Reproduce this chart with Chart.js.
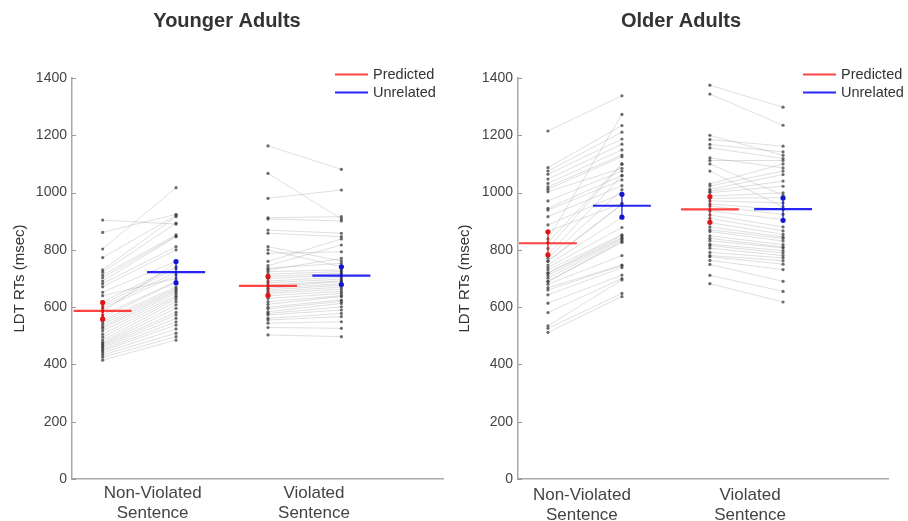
<!DOCTYPE html>
<html>
<head>
<meta charset="utf-8">
<script src="https://cdn.jsdelivr.net/npm/chart.js@4.4.1/dist/chart.umd.min.js"></script>
<style>
  html, body { margin: 0; padding: 0; background: #fff; }
  #wrap { position: relative; width: 908px; height: 521px; overflow: hidden; }
  canvas { position: absolute; top: 0; }
</style>
</head>
<body>
<div id="wrap">
  <canvas id="left" width="454" height="521" style="left:0px"></canvas>
  <canvas id="right" width="454" height="521" style="left:454px"></canvas>
</div>
<script>
// ---------------- DATA ----------------
const panelTitles = ['Younger Adults', 'Older Adults'];
const categories = [['Non-Violated', 'Sentence'], ['Violated', 'Sentence']];
const conditions = ['Predicted', 'Unrelated'];
const yTickValues = [0, 200, 400, 600, 800, 1000, 1200, 1400];
const yAxisTitle = 'LDT RTs (msec)';

// Younger adults, per participant (same order in each pair of arrays)
const youngNVPred  = [904, 861, 803, 773, 730, 722, 712, 703, 691, 682, 671, 652, 640, 619, 610, 602, 595, 584, 573, 565, 555, 548, 540, 532, 526, 517, 505, 495, 485, 477, 472, 468, 463, 458, 452, 447, 440, 433, 425, 415];
const youngNVUnrel = [890, 924, 1017, 920, 916, 893, 852, 848, 846, 811, 800, 760, 700, 741, 735, 722, 712, 757, 690, 687, 671, 665, 660, 655, 648, 640, 635, 628, 619, 608, 596, 582, 573, 561, 549, 538, 524, 509, 497, 485];
const youngVPred   = [1163, 1067, 980, 912, 908, 869, 858, 811, 800, 788, 760, 745, 736, 730, 724, 715, 707, 700, 691, 685, 677, 672, 666, 660, 654, 648, 640, 630, 619, 610, 600, 594, 584, 578, 573, 561, 555, 544, 529, 503];
const youngVUnrel  = [1081, 908, 1009, 916, 901, 858, 846, 761, 741, 793, 838, 817, 753, 770, 730, 724, 718, 712, 705, 698, 692, 689, 682, 677, 670, 663, 655, 648, 640, 637, 625, 620, 613, 601, 590, 578, 567, 549, 526, 497];

// Older adults
const oldNVPred  = [1215, 1087, 1075, 1064, 1047, 1032, 1020, 1012, 1003, 971, 945, 939, 916, 887, 864, 838, 826, 805, 782, 771, 761, 760, 747, 738, 730, 720, 718, 710, 701, 690, 689, 680, 668, 660, 643, 614, 581, 535, 526, 512];
const oldNVUnrel = [1338, 1234, 1211, 1187, 1169, 1149, 1131, 1125, 1085, 1075, 1060, 1044, 1024, 998, 963, 1273, 1100, 1099, 1059, 1010, 960, 957, 913, 878, 852, 850, 843, 840, 835, 830, 826, 780, 747, 745, 738, 712, 700, 695, 648, 637];
const oldVPred   = [1375, 1344, 1200, 1185, 1168, 1156, 1121, 1112, 1100, 1075, 1030, 1023, 1011, 1005, 1000, 988, 980, 971, 960, 953, 936, 922, 910, 895, 880, 870, 864, 849, 840, 832, 820, 815, 806, 791, 780, 776, 763, 749, 711, 682];
const oldVUnrel  = [1298, 1235, 1130, 1162, 1142, 1119, 1086, 1112, 990, 950, 1100, 1075, 1063, 1040, 1022, 999, 982, 964, 941, 924, 906, 880, 866, 854, 845, 840, 831, 818, 810, 807, 797, 789, 780, 772, 762, 750, 731, 690, 655, 618];

// Condition means and error-bar half-lengths (NV-Pred, NV-Unrel, V-Pred, V-Unrel)
const youngMeans  = [587, 722, 674, 710];
const youngErrors = [29, 37, 33, 31];
const oldMeans    = [823, 954, 941, 942];
const oldErrors   = [40, 40, 45, 39];

// ---------------- STYLE / LAYOUT ----------------
const FONT = '"Liberation Sans", Arial, Helvetica, sans-serif';
const RED = 'rgba(255,20,20,0.8)';
const BLUE = 'rgba(0,0,245,0.85)';
const RED_DOT = 'rgb(225,20,20)';
const BLUE_DOT = 'rgb(20,20,210)';

const panels = [
  { id: 'left', title: panelTitles[0],
    groups: [[youngNVPred, youngNVUnrel], [youngVPred, youngVUnrel]],
    means: youngMeans, errors: youngErrors,
    xMin: 0.5, xMax: 2.8, slots: [0.69, 1.145, 1.715, 2.17], half: 0.18,
    yWidth: 72, padRight: 11, titlePad: 11, xLabelPad: 4,
    legendX: 335 },
  { id: 'right', title: panelTitles[1],
    groups: [[oldNVPred, oldNVUnrel], [oldVPred, oldVUnrel]],
    means: oldMeans, errors: oldErrors,
    xMin: 0.62, xMax: 2.82, slots: [0.798, 1.238, 1.761, 2.196], half: 0.172,
    yWidth: 64, padRight: 20, titlePad: 2, xLabelPad: 6,
    legendX: 349 }
];

function buildDatasets(p) {
  const ds = [];
  // means and error bars (drawn on top: listed first)
  for (let c = 0; c < 4; c++) {
    const col = (c % 2 === 0) ? RED : BLUE;
    const dot = (c % 2 === 0) ? RED_DOT : BLUE_DOT;
    const x = p.slots[c];
    ds.push({
      data: [{ x: x, y: p.means[c] - p.errors[c] }, { x: x, y: p.means[c] }, { x: x, y: p.means[c] + p.errors[c] }],
      showLine: true, borderColor: dot, borderWidth: 1.2,
      pointRadius: [2.6, 1.3, 2.6], pointBackgroundColor: dot, pointBorderColor: dot, pointBorderWidth: 0
    });
    ds.push({
      data: [{ x: x - p.half, y: p.means[c] }, { x: x + p.half, y: p.means[c] }],
      showLine: true, borderColor: col, borderWidth: 2.2, pointRadius: 0
    });
  }
  // individual participants
  p.groups.forEach((g, s) => {
    const pred = g[0], unrel = g[1];
    for (let i = 0; i < pred.length; i++) {
      ds.push({
        data: [{ x: p.slots[2 * s], y: pred[i] }, { x: p.slots[2 * s + 1], y: unrel[i] }],
        showLine: true, borderColor: 'rgba(150,150,150,0.3)', borderWidth: 1,
        pointRadius: 1.6, pointBackgroundColor: 'rgba(60,60,60,0.75)', pointBorderWidth: 0
      });
    }
  });
  return ds;
}

const decorPlugin = {
  id: 'decor',
  afterDraw(chart, args, opts) {
    const ctx = chart.ctx;
    const ca = chart.chartArea;
    const ys = chart.scales.y;
    ctx.save();
    // inward y tick marks
    ctx.strokeStyle = '#9a9a9a';
    ctx.lineWidth = 1;
    yTickValues.forEach(v => {
      const y = Math.round(ys.getPixelForValue(v)) + 0.5;
      ctx.beginPath(); ctx.moveTo(ca.left, y); ctx.lineTo(ca.left + 4, y); ctx.stroke();
    });
    // panel title
    ctx.fillStyle = '#333';
    ctx.font = 'bold 20px ' + FONT;
    ctx.textAlign = 'center';
    ctx.textBaseline = 'middle';
    ctx.fillText(opts.title, chart.width / 2, 21);
    // legend
    ctx.font = '14.5px ' + FONT;
    ctx.textAlign = 'left';
    const items = [[conditions[0], RED], [conditions[1], BLUE]];
    items.forEach((it, k) => {
      const y = 74.5 + k * 18;
      ctx.strokeStyle = it[1];
      ctx.lineWidth = 2.2;
      ctx.beginPath(); ctx.moveTo(opts.legendX, y); ctx.lineTo(opts.legendX + 33, y); ctx.stroke();
      ctx.fillStyle = '#333';
      ctx.fillText(it[0], opts.legendX + 38, y + 0.5);
    });
    ctx.restore();
  }
};

panels.forEach(p => {
  new Chart(document.getElementById(p.id), {
    type: 'scatter',
    data: { datasets: buildDatasets(p) },
    plugins: [decorPlugin],
    options: {
      responsive: false,
      animation: false,
      devicePixelRatio: 1,
      layout: { padding: { top: 78, right: p.padRight, bottom: 0, left: 0 } },
      plugins: {
        legend: { display: false },
        tooltip: { enabled: false },
        title: { display: false },
        decor: { title: p.title, legendX: p.legendX }
      },
      scales: {
        x: {
          type: 'linear', min: p.xMin, max: p.xMax,
          grid: { display: false, drawTicks: false },
          border: { display: true, color: '#a8a8a8', width: 1.5 },
          afterBuildTicks: (sc) => { sc.ticks = [{ value: 1 }, { value: 2 }]; },
          afterFit: (sc) => { sc.height = 42; },
          ticks: {
            autoSkip: false, maxRotation: 0, padding: p.xLabelPad,
            color: '#444', font: { family: FONT, size: 17 },
            callback: (v) => categories[Math.round(v) - 1]
          }
        },
        y: {
          type: 'linear', min: 0, max: 1400,
          grid: { display: false, drawTicks: false },
          border: { display: true, color: '#a8a8a8', width: 1.5 },
          afterBuildTicks: (sc) => { sc.ticks = yTickValues.map(v => ({ value: v })); },
          afterFit: (sc) => { sc.width = p.yWidth; },
          ticks: { padding: 5, color: '#444', font: { family: FONT, size: 14 },
                   callback: (v) => String(v) },
          title: {
            display: true, text: yAxisTitle, color: '#333',
            font: { family: FONT, size: 15 }, padding: { top: p.titlePad, bottom: 0 }
          }
        }
      }
    }
  });
});
</script>
</body>
</html>
